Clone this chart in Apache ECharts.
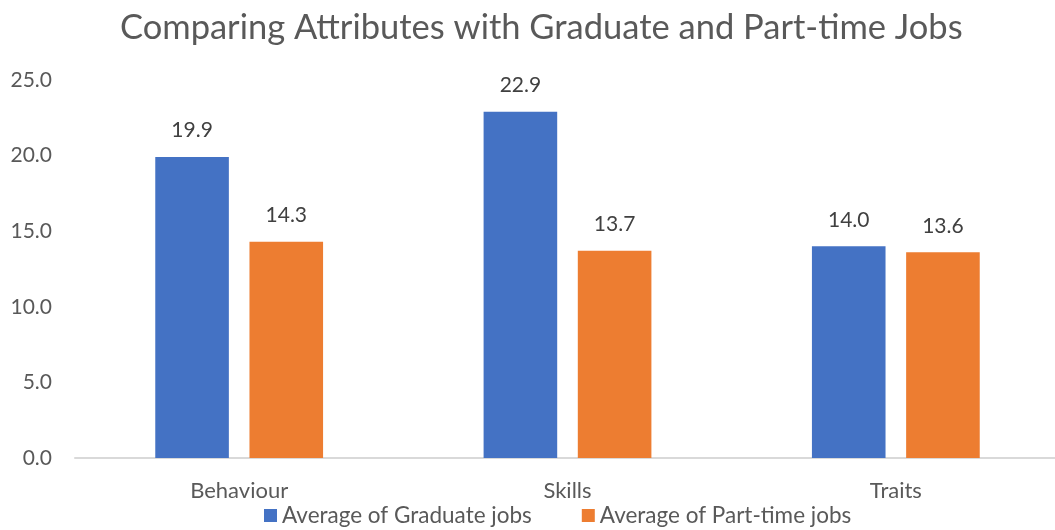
<!DOCTYPE html>
<html><head><meta charset="utf-8">
<script src="https://cdn.jsdelivr.net/npm/echarts@6/dist/echarts.min.js"></script>
<style>html,body{margin:0;padding:0;background:#fff}#c{width:1055px;height:530px}</style>
</head><body><div id="c"></div>
<script>
const categories = ['Behaviour', 'Skills', 'Traits'];
const graduate = [19.9, 22.9, 14.0];
const partTime = [14.3, 13.7, 13.6];
const seriesNames = ['Average of Graduate jobs', 'Average of Part-time jobs'];
const font = 'Lato, "Open Sans", sans-serif';
const chart = echarts.init(document.getElementById('c'));
const lbl = {show: true, position: 'top', distance: 16, color: '#404040', fontSize: 21, fontFamily: font, formatter: p => p.value.toFixed(1)};
chart.setOption({
  animation: false,
  title: {text: 'Comparing Attributes with Graduate and Part-time Jobs', left: 115, top: 5,
    textStyle: {fontSize: 34.5, fontWeight: 'normal', color: '#595959', fontFamily: font}},
  legend: {bottom: -2, left: 259, itemWidth: 13, itemHeight: 13, itemGap: 50, icon: 'rect',
    textStyle: {fontSize: 22.5, color: '#595959', fontFamily: font}},
  grid: {left: 75, width: 985, top: 80, bottom: 72, outerBoundsMode: 'none', containLabel: false},
  xAxis: {type: 'category', data: categories,
    axisLine: {lineStyle: {color: '#d9d9d9', width: 2}}, axisTick: {show: false},
    axisLabel: {fontSize: 22, color: '#595959', fontFamily: font, margin: 22}},
  yAxis: {type: 'value', min: 0, max: 25, interval: 5, splitLine: {show: false},
    axisLabel: {fontSize: 21, color: '#595959', fontFamily: font, margin: 23, formatter: v => v.toFixed(1)}},
  series: [
    {name: seriesNames[0], type: 'bar', data: graduate, barWidth: 73.6, barGap: '28%', itemStyle: {color: '#4472c4'}, label: lbl},
    {name: seriesNames[1], type: 'bar', data: partTime, barWidth: 73.6, itemStyle: {color: '#ed7d31'}, label: lbl}
  ]
});
</script></body></html>
